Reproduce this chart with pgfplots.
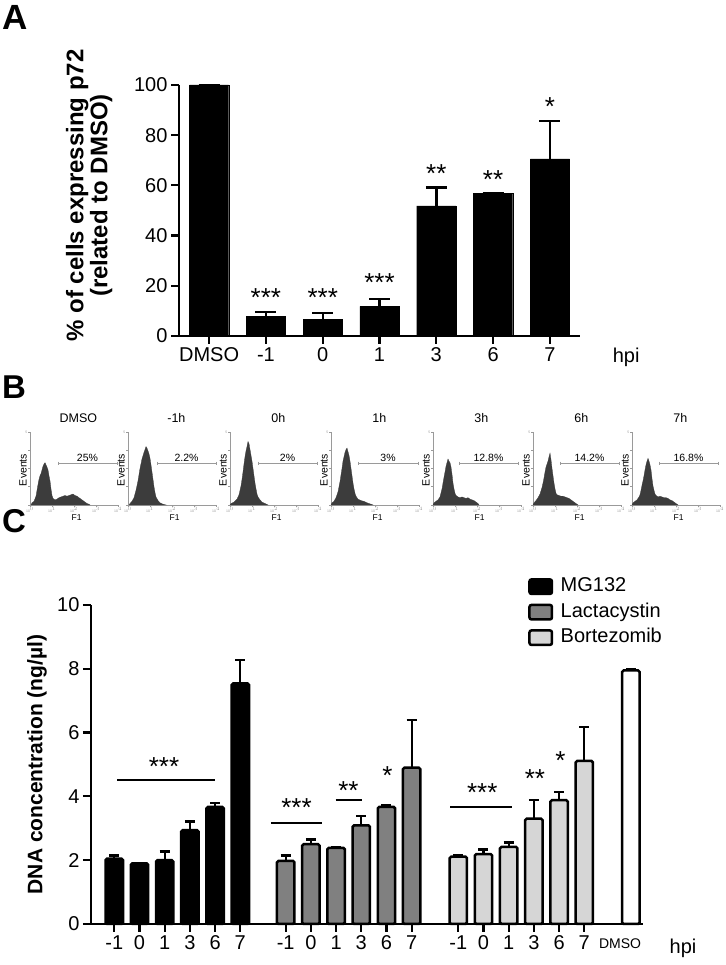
\documentclass[border=0pt]{standalone}
\usepackage{pgfplots}
\pgfplotsset{compat=1.18}
\usepackage{fontspec}
\setmainfont{Liberation Sans}
\definecolor{lacgray}{HTML}{808080}
\definecolor{borgray}{HTML}{D6D6D6}
\definecolor{histfill}{HTML}{3C3C3C}
\definecolor{histaxis}{HTML}{9A9A9A}
\newcommand{\fs}[1]{\fontsize{#1}{#1}\selectfont}
\pgfplotsset{
  histo/.style={
    scale only axis, width=88pt, height=73pt, anchor=south west,
    xmin=0, xmax=88, ymin=0, ymax=1,
    axis lines*=left, axis line style={histaxis, line width=0.8pt},
    tick style={histaxis, line width=0.5pt}, tick align=outside, major tick length=2pt,
    xtick={0,22,44,66,88},
    xticklabels={10$^0$,10$^1$,10$^2$,10$^3$,10$^4$},
    xticklabel style={font=\fs{3.5}, text=histaxis, inner sep=0.5pt},
    ytick={0,0.25,0.5,0.75,1}, yticklabels={,,,,5},
    yticklabel style={font=\fs{3.5}, text=histaxis, inner sep=0.5pt},
    ylabel={Events},
    ylabel style={font=\fs{10.5}, at={(axis description cs:-0.08,0.48)}, anchor=center},
    xlabel={F1},
    xlabel style={font=\fs{8.5}, at={(axis description cs:0.53,0)}, anchor=center, yshift=-13pt},
    title style={font=\fs{12.5}, at={(axis description cs:0.55,1)}, anchor=base, yshift=3pt},
    clip=false,
  },
  hist/.style={fill=histfill, draw=histfill, line width=0.3pt},
  gate/.style={histaxis, line width=0.7pt, mark=|, mark size=1.5pt, mark options={histaxis}},
}
\tikzset{pct/.style={font=\fs{10.5}, anchor=base}}
\begin{document}
\begin{tikzpicture}
\useasboundingbox (0pt,0pt) rectangle (725pt,965pt);
% panel letters
\node[font=\bfseries\fs{35}, anchor=base west, inner sep=0pt] at (2pt,935pt) {A};
\node[font=\bfseries\fs{33}, anchor=base west, inner sep=0pt] at (2pt,566pt) {B};
\node[font=\bfseries\fs{33}, anchor=base west, inner sep=0pt] at (2pt,432pt) {C};

% ---------------- Panel A ----------------
\begin{axis}[
  at={(179pt,629pt)}, anchor=south west, scale only axis, width=401pt, height=251pt,
  xmin=-0.53, xmax=6.53, ymin=0, ymax=100,
  axis lines*=left,
  axis line style={line width=2.4pt},
  tick style={black, line width=2.2pt},
  tick align=outside, major tick length=8pt,
  xtick={0,...,6}, xticklabels={DMSO,-1,0,1,3,6,7},
  ytick={0,20,...,100},
  ticklabel style={font=\fs{20}},
  /pgf/number format/assume math mode=true,
  ylabel={\% of cells expressing p72\\(related to DMSO)},
  ylabel style={font=\bfseries\fs{24}, align=center, at={(axis description cs:-0.224,0.56)}, anchor=center},
  clip=false,
]
\addplot[ybar, bar width=0.69, bar shift=0pt, fill=black, draw=black,
  error bars/.cd, y dir=plus, y explicit,
  error bar style={line width=2.4pt, black},
  error mark options={rotate=90, line width=2.4pt, mark size=10.5pt, black}]
  table[x=x, y=y, y error=e] {
x y e
0 100 0
1 7.7 1.9
2 6.7 2.4
3 11.8 2.9
4 51.8 7.4
5 56.7 0
6 70.6 15.1
};
\node[font=\fs{26}, anchor=base] at (axis cs:1,17.6) [yshift=-15pt] {***};
\node[font=\fs{26}, anchor=base] at (axis cs:2,17.6) [yshift=-15pt] {***};
\node[font=\fs{26}, anchor=base] at (axis cs:3,23.6) [yshift=-15pt] {***};
\node[font=\fs{26}, anchor=base] at (axis cs:4,67.3) [yshift=-15pt] {**};
\node[font=\fs{26}, anchor=base] at (axis cs:5,64.9) [yshift=-15pt] {**};
\node[font=\fs{26}, anchor=base] at (axis cs:6,94) [yshift=-15pt] {*};
\node[font=\fs{20}, anchor=center] at (rel axis cs:1.115,-0.084) {hpi};
\end{axis}

% ---------------- Panel B ----------------
\begin{axis}[histo, at={(30pt,460pt)}, title={DMSO}]
\addplot[hist] coordinates {(1,0)(2,0.03)(4,0.05)(6,0.12)(7,0.2)(8,0.28)(9,0.35)(10,0.4)(11,0.43)(12,0.48)(13,0.53)(14,0.56)(15,0.58)(16,0.55)(17,0.52)(18,0.48)(19,0.4)(20,0.33)(21,0.22)(22,0.13)(23,0.09)(25,0.07)(27,0.08)(29,0.1)(31,0.11)(33,0.12)(35,0.13)(37,0.12)(39,0.13)(41,0.14)(43,0.15)(45,0.13)(47,0.12)(49,0.1)(51,0.08)(53,0.06)(55,0.04)(57,0.02)(59,0.01)(60,0)} \closedcycle;
\addplot[gate] coordinates {(28,0.575)(87,0.575)};
\node[pct] at (axis cs:57.5,0.6) {25\%};
\end{axis}

\begin{axis}[histo, at={(128pt,460pt)}, title={-1h}]
\addplot[hist] coordinates {(1,0)(2,0.02)(4,0.05)(6,0.1)(8,0.2)(10,0.33)(12,0.5)(14,0.63)(16,0.72)(17,0.76)(18,0.8)(19,0.78)(20,0.74)(21,0.7)(22,0.64)(23,0.55)(24,0.45)(25,0.35)(26,0.25)(27,0.17)(28,0.11)(30,0.06)(32,0.03)(35,0.01)(38,0)} \closedcycle;
\addplot[gate] coordinates {(29,0.575)(88,0.575)};
\node[pct] at (axis cs:58.5,0.6) {2.2\%};
\end{axis}

\begin{axis}[histo, at={(230pt,460pt)}, title={0h}]
\addplot[hist] coordinates {(0,0)(1,0.02)(4,0.04)(7,0.08)(9,0.14)(11,0.26)(12,0.35)(13,0.45)(14,0.56)(15,0.66)(16,0.74)(17,0.8)(18,0.87)(19,0.84)(20,0.76)(21,0.68)(22,0.6)(23,0.5)(24,0.4)(25,0.3)(26,0.22)(27,0.15)(28,0.11)(30,0.07)(32,0.04)(35,0.02)(38,0)} \closedcycle;
\addplot[gate] coordinates {(28,0.575)(87,0.575)};
\node[pct] at (axis cs:57.5,0.6) {2\%};
\end{axis}

\begin{axis}[histo, at={(331pt,460pt)}, title={1h}]
\addplot[hist] coordinates {(0,0)(1,0.03)(3,0.05)(5,0.1)(7,0.18)(9,0.32)(11,0.5)(12,0.6)(13,0.66)(14,0.72)(15,0.76)(16,0.78)(17,0.73)(18,0.68)(19,0.6)(20,0.5)(21,0.4)(22,0.3)(23,0.22)(24,0.16)(25,0.12)(27,0.08)(30,0.06)(33,0.05)(36,0.03)(40,0.01)(42,0)} \closedcycle;
\addplot[gate] coordinates {(27,0.575)(87,0.575)};
\node[pct] at (axis cs:57,0.6) {3\%};
\end{axis}

\begin{axis}[histo, at={(433pt,460pt)}, title={3h}]
\addplot[hist] coordinates {(0,0)(1,0.03)(3,0.05)(5,0.07)(7,0.11)(9,0.22)(10,0.3)(11,0.38)(12,0.45)(13,0.53)(14,0.58)(15,0.63)(16,0.6)(17,0.58)(18,0.52)(19,0.42)(20,0.3)(21,0.22)(22,0.16)(23,0.13)(25,0.11)(27,0.1)(29,0.11)(31,0.1)(33,0.09)(35,0.1)(37,0.08)(39,0.07)(41,0.06)(43,0.04)(45,0.02)(46,0)} \closedcycle;
\addplot[gate] coordinates {(26,0.575)(85,0.575)};
\node[pct] at (axis cs:55.5,0.6) {12.8\%};
\end{axis}

\begin{axis}[histo, at={(533pt,460pt)}, title={6h}]
\addplot[hist] coordinates {(0,0)(1,0.03)(3,0.06)(5,0.1)(7,0.15)(9,0.24)(10,0.3)(11,0.37)(12,0.45)(13,0.52)(14,0.56)(15,0.6)(16,0.66)(17,0.71)(18,0.62)(19,0.5)(20,0.4)(21,0.3)(22,0.22)(23,0.16)(24,0.14)(26,0.13)(28,0.12)(30,0.12)(32,0.11)(34,0.1)(36,0.09)(38,0.07)(40,0.05)(42,0.03)(44,0.01)(45,0)} \closedcycle;
\addplot[gate] coordinates {(27,0.575)(86,0.575)};
\node[pct] at (axis cs:56.5,0.6) {14.2\%};
\end{axis}

\begin{axis}[histo, at={(632pt,460pt)}, title={7h}]
\addplot[hist] coordinates {(0,0)(1,0.03)(3,0.05)(5,0.07)(7,0.11)(8,0.14)(9,0.2)(10,0.27)(11,0.33)(12,0.4)(13,0.48)(14,0.55)(15,0.6)(16,0.64)(17,0.6)(18,0.55)(19,0.48)(20,0.36)(21,0.26)(22,0.2)(23,0.15)(24,0.13)(26,0.11)(28,0.12)(30,0.11)(32,0.1)(34,0.1)(36,0.09)(38,0.07)(40,0.06)(42,0.04)(44,0.02)(46,0)} \closedcycle;
\addplot[gate] coordinates {(27,0.575)(86,0.575)};
\node[pct] at (axis cs:56.5,0.6) {16.8\%};
\end{axis}

% ---------------- Panel C ----------------
\begin{axis}[
  at={(91pt,41pt)}, anchor=south west, scale only axis, width=552pt, height=319pt,
  xmin=-0.925, xmax=20.98, ymin=0, ymax=10,
  axis lines*=left, axis line style={line width=2.4pt},
  tick style={black, line width=2.2pt}, tick align=outside, major tick length=8pt,
  xtick={0,1,2,3,4,5,6.8,7.8,8.8,9.8,10.8,11.8,13.65,14.65,15.65,16.65,17.65,18.65},
  xticklabels={-1,0,1,3,6,7,-1,0,1,3,6,7,-1,0,1,3,6,7},
  ytick={0,2,...,10},
  ticklabel style={font=\fs{20}},
  /pgf/number format/assume math mode=true,
  ylabel={DNA concentration (ng/µl)},
  ylabel style={font=\bfseries\fs{21}, at={(axis description cs:-0.098,0.5)}, anchor=center},
  clip=false,
  legend style={at={(rel axis cs:0.7917,1.091)}, anchor=north west, draw=none, fill=none,
    inner sep=0pt, row sep=4.5pt, font=\fs{20},
    nodes={inner sep=1.5pt, text height=14pt, text depth=4pt}, cells={anchor=west}},
  legend image code/.code={\draw[#1, line width=2.5pt, rounded corners=2pt] (1.25pt,-7.25pt) rectangle (23.75pt,7.25pt); \path[draw=none, fill=none] (0pt,0pt) rectangle (31pt,0.1pt);},
  cbar/.style={ybar, bar width=0.69, bar shift=0pt, draw=black, line width=2.5pt, rounded corners=1.5pt,
    error bars/.cd, y dir=plus, y explicit,
    error bar style={line width=2.2pt, black, sharp corners},
    error mark options={rotate=90, line width=2.5pt, mark size=5pt, black}, /pgfplots/.cd},
]
\addplot[fill=black, cbar] table[x=x, y=y, y error=e] {
x y e
0 2.05 0.10
1 1.90 0.02
2 2.00 0.28
3 2.94 0.27
4 3.67 0.13
5 7.54 0.73
};
\addlegendentry{MG132}
\addplot[fill=lacgray, cbar] table[x=x, y=y, y error=e] {
x y e
6.8 1.98 0.17
7.8 2.50 0.15
8.8 2.39 0.03
9.8 3.09 0.30
10.8 3.67 0.05
11.8 4.90 1.50
};
\addlegendentry{Lactacystin}
\addplot[fill=borgray, cbar] table[x=x, y=y, y error=e] {
x y e
13.65 2.11 0.06
14.65 2.19 0.15
15.65 2.42 0.13
16.65 3.30 0.58
17.65 3.88 0.26
18.65 5.11 1.07
};
\addlegendentry{Bortezomib}
\addplot[fill=white, forget plot, cbar] table[x=x, y=y, y error=e] {
x y e
20.5 7.95 0.04
};
% significance lines
\addplot[black, line width=2pt, forget plot] coordinates {(0.11,4.51) (3.99,4.51)};
\addplot[black, line width=2pt, forget plot] coordinates {(6.21,3.17) (8.23,3.17)};
\addplot[black, line width=2pt, forget plot] coordinates {(8.78,3.88) (9.83,3.88)};
\addplot[black, line width=2pt, forget plot] coordinates {(13.33,3.67) (15.8,3.67)};
\node[font=\fs{26}, anchor=base] at (axis cs:1.97,5.14) [yshift=-15pt] {***};
\node[font=\fs{26}, anchor=base] at (axis cs:7.23,3.83) [yshift=-15pt] {***};
\node[font=\fs{26}, anchor=base] at (axis cs:9.29,4.37) [yshift=-15pt] {**};
\node[font=\fs{26}, anchor=base] at (axis cs:10.84,4.84) [yshift=-15pt] {*};
\node[font=\fs{26}, anchor=base] at (axis cs:14.6,4.32) [yshift=-15pt] {***};
\node[font=\fs{26}, anchor=base] at (axis cs:16.69,4.74) [yshift=-15pt] {**};
\node[font=\fs{26}, anchor=base] at (axis cs:17.7,5.31) [yshift=-15pt] {*};
\node[font=\fs{14}, anchor=base] at (axis cs:20.07,0) [yshift=-24pt] {DMSO};
\node[font=\fs{20}, anchor=center] at (rel axis cs:1.0725,-0.075) {hpi};
\end{axis}
\end{tikzpicture}
\end{document}
